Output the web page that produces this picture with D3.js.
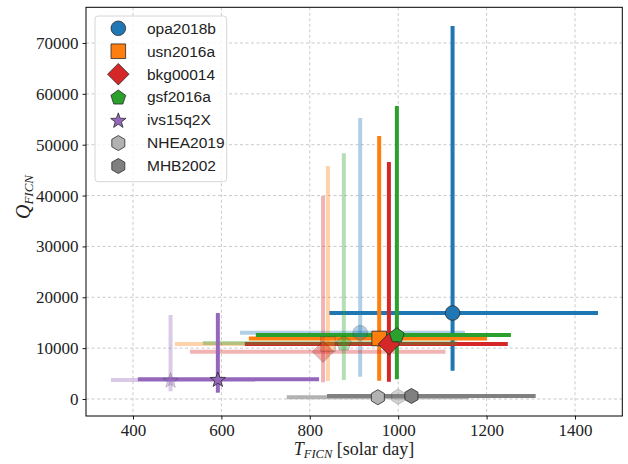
<!DOCTYPE html>
<html>
<head>
<meta charset="utf-8">
<script src="https://cdn.jsdelivr.net/npm/d3@7"></script>
<style>
  html, body { margin: 0; padding: 0; background: #fff; }
  svg { display: block; }
</style>
</head>
<body>
<svg id="chart" width="628" height="464"></svg>
<script>
// Free core nutation estimates: period T (solar days) and quality factor Q
const series = ["opa2018b", "usn2016a", "bkg00014", "gsf2016a", "ivs15q2X", "NHEA2019", "MHB2002"];
const colors = ["#1f77b4", "#ff7f0e", "#d62728", "#2ca02c", "#9467bd", "#b2b2b2", "#808080"];
const shapes = ["circle", "square", "diamond", "pentagon", "star", "hexagon", "hexagon"];

// main solutions (central value, lower bound, upper bound)
const T    = [1123, 957, 979, 997, 592, 954, 1030];
const T_lo = [844, 662, 653, 678, 411, 748, 839];
const T_hi = [1452, 1201, 1248, 1255, 821, 1160, 1311];
const Q    = [16900, 11900, 10800, 12600, 3900, 350, 600];
const Q_lo = [5560, 3600, 3400, 3870, 1240, 350, 600];
const Q_hi = [73340, 51700, 46600, 57600, 16900, 350, 600];

// alternative solutions, drawn translucent (null = none)
const T2    = [914, 841, 830, 877, 485, null, 1000];
const T2_lo = [642, 495, 529, 558, 350, null, 1000];
const T2_hi = [1151, 1088, 1107, 1133, 676, null, 1000];
const Q2    = [13040, 10800, 9300, 11010, 3740, null, 450];
const Q2_lo = [4385, 3540, 3280, 3740, 1510, null, 450];
const Q2_hi = [55250, 45810, 39910, 48310, 16520, null, 450];

const xTicks = [400, 600, 800, 1000, 1200, 1400];
const yTicks = [0, 10000, 20000, 30000, 40000, 50000, 60000, 70000];

const svg = d3.select("#chart");
const plot = { left: 86, right: 622.3, top: 7.3, bottom: 416 };

const x = d3.scaleLinear().domain([293.7, 1507]).range([plot.left, plot.right]);
const y = d3.scaleLinear().domain([-3343, 77014]).range([plot.bottom, plot.top]);

const serif = "'Liberation Serif', 'DejaVu Serif', serif";
const sans = "'Liberation Sans Narrow', 'Liberation Sans', Roboto, sans-serif";

// grid
const grid = svg.append("g");
grid.selectAll("line.gx").data(xTicks).join("line")
  .attr("x1", d => x(d)).attr("x2", d => x(d))
  .attr("y1", plot.top).attr("y2", plot.bottom)
  .attr("stroke", "#c4c4c4").attr("stroke-width", 0.9).attr("stroke-dasharray", "3,2.5");
grid.selectAll("line.gy").data(yTicks).join("line")
  .attr("x1", plot.left).attr("x2", plot.right)
  .attr("y1", d => y(d)).attr("y2", d => y(d))
  .attr("stroke", "#c4c4c4").attr("stroke-width", 0.9).attr("stroke-dasharray", "3,2.5");

// marker shapes
function shapePath(kind, r) {
  const poly = pts => "M" + pts.map(p => p[0].toFixed(2) + "," + p[1].toFixed(2)).join("L") + "Z";
  if (kind === "circle") return d3.symbol(d3.symbolCircle, Math.PI * r * r)();
  if (kind === "square") return poly([[-r, -r], [r, -r], [r, r], [-r, r]]);
  if (kind === "diamond") { const a = r * 1.45; return poly([[0, -a], [a, 0], [0, a], [-a, 0]]); }
  if (kind === "pentagon") {
    const p = d3.range(5).map(i => { const t = -Math.PI / 2 + i * 2 * Math.PI / 5; return [r * 1.05 * Math.cos(t), r * 1.05 * Math.sin(t) + 0.6]; });
    return poly(p);
  }
  if (kind === "hexagon") {
    const p = d3.range(6).map(i => { const t = -Math.PI / 2 + i * Math.PI / 3; return [r * Math.cos(t), r * Math.sin(t)]; });
    return poly(p);
  }
  if (kind === "star") {
    const p = d3.range(10).map(i => { const t = -Math.PI / 2 + i * Math.PI / 5; const rr = i % 2 ? r * 0.45 : r * 1.1; return [rr * Math.cos(t), rr * Math.sin(t) + 0.8]; });
    return poly(p);
  }
}
const markerR = [7.3, 7.3, 7.4, 7.4, 7.3, 7.5, 7.5];

// error bars: main solutions and translucent alternatives, per dataset
const bars = svg.append("g");
series.forEach((s, i) => {
  bars.append("line")
    .attr("x1", x(T_lo[i])).attr("x2", x(T_hi[i]))
    .attr("y1", y(Q[i])).attr("y2", y(Q[i]))
    .attr("stroke", colors[i]).attr("stroke-width", 4);
  if (Q_hi[i] !== Q_lo[i]) bars.append("line")
    .attr("x1", x(T[i])).attr("x2", x(T[i]))
    .attr("y1", y(Q_lo[i])).attr("y2", y(Q_hi[i]))
    .attr("stroke", colors[i]).attr("stroke-width", 4);
  if (T2[i] !== null) {
    if (T2_hi[i] !== T2_lo[i]) bars.append("line")
      .attr("x1", x(T2_lo[i])).attr("x2", x(T2_hi[i]))
      .attr("y1", y(Q2[i])).attr("y2", y(Q2[i]))
      .attr("stroke", colors[i]).attr("stroke-width", 4).attr("stroke-opacity", 0.35);
    if (Q2_hi[i] !== Q2_lo[i]) bars.append("line")
      .attr("x1", x(T2[i])).attr("x2", x(T2[i]))
      .attr("y1", y(Q2_lo[i])).attr("y2", y(Q2_hi[i]))
      .attr("stroke", colors[i]).attr("stroke-width", 4).attr("stroke-opacity", 0.35);
  }
});

// markers
const marks = svg.append("g");
series.forEach((s, i) => {
  if (T2[i] !== null) marks.append("path")
    .attr("d", shapePath(shapes[i], markerR[i]))
    .attr("transform", `translate(${x(T2[i])},${y(Q2[i])})`)
    .attr("fill", colors[i]).attr("stroke", "#2a2a2a").attr("stroke-width", 0.8)
    .attr("opacity", 0.35);
});
series.forEach((s, i) => {
  marks.append("path")
    .attr("d", shapePath(shapes[i], markerR[i]))
    .attr("transform", `translate(${x(T[i])},${y(Q[i])})`)
    .attr("fill", colors[i]).attr("stroke", "#2a2a2a").attr("stroke-width", 0.8);
});

// frame
svg.append("rect")
  .attr("x", plot.left).attr("y", plot.top)
  .attr("width", plot.right - plot.left).attr("height", plot.bottom - plot.top)
  .attr("fill", "none").attr("stroke", "#000").attr("stroke-width", 1);

// axes
const xAxis = svg.append("g").attr("transform", `translate(0,${plot.bottom})`)
  .call(d3.axisBottom(x).tickValues(xTicks).tickSize(3.5).tickPadding(4).tickFormat(d3.format("d")));
const yAxis = svg.append("g").attr("transform", `translate(${plot.left},0)`)
  .call(d3.axisLeft(y).tickValues(yTicks).tickSize(3.5).tickPadding(4).tickFormat(d3.format("d")));
[xAxis, yAxis].forEach(a => {
  a.select(".domain").remove();
  a.selectAll(".tick line").attr("stroke", "#000").attr("stroke-width", 0.9);
  a.selectAll(".tick text").attr("font-family", serif).attr("font-size", 17).attr("fill", "#222");
});

// axis titles
const xl = svg.append("text").attr("x", 354).attr("y", 455)
  .attr("text-anchor", "middle").attr("font-family", serif).attr("font-size", 18).attr("fill", "#222");
xl.append("tspan").attr("font-style", "italic").text("T");
xl.append("tspan").attr("font-style", "italic").attr("font-size", 12.5).attr("dy", 3).text("FICN");
xl.append("tspan").attr("dy", -3).text(" [solar day]");

const yl = svg.append("text").attr("transform", "translate(30,197) rotate(-90)")
  .attr("text-anchor", "middle").attr("font-family", serif).attr("font-size", 20).attr("fill", "#222");
yl.append("tspan").attr("font-style", "italic").text("Q");
yl.append("tspan").attr("font-style", "italic").attr("font-size", 13).attr("dy", 3).text("FICN");

// legend
const lg = svg.append("g");
lg.append("rect").attr("x", 95).attr("y", 16).attr("width", 131.7).attr("height", 165.7)
  .attr("rx", 3).attr("fill", "#fff").attr("fill-opacity", 0.8)
  .attr("stroke", "#d6d6d6").attr("stroke-width", 1);
series.forEach((s, i) => {
  const cy = 28.3 + i * 22.95;
  lg.append("path").attr("d", shapePath(shapes[i], markerR[i]))
    .attr("transform", `translate(118.3,${cy})`)
    .attr("fill", colors[i]).attr("stroke", "#2a2a2a").attr("stroke-width", 0.8);
  lg.append("text").attr("x", 147).attr("y", cy + 5.3)
    .attr("font-family", sans).attr("font-size", 15.5).attr("fill", "#222").text(s);
});
</script>
</body>
</html>
